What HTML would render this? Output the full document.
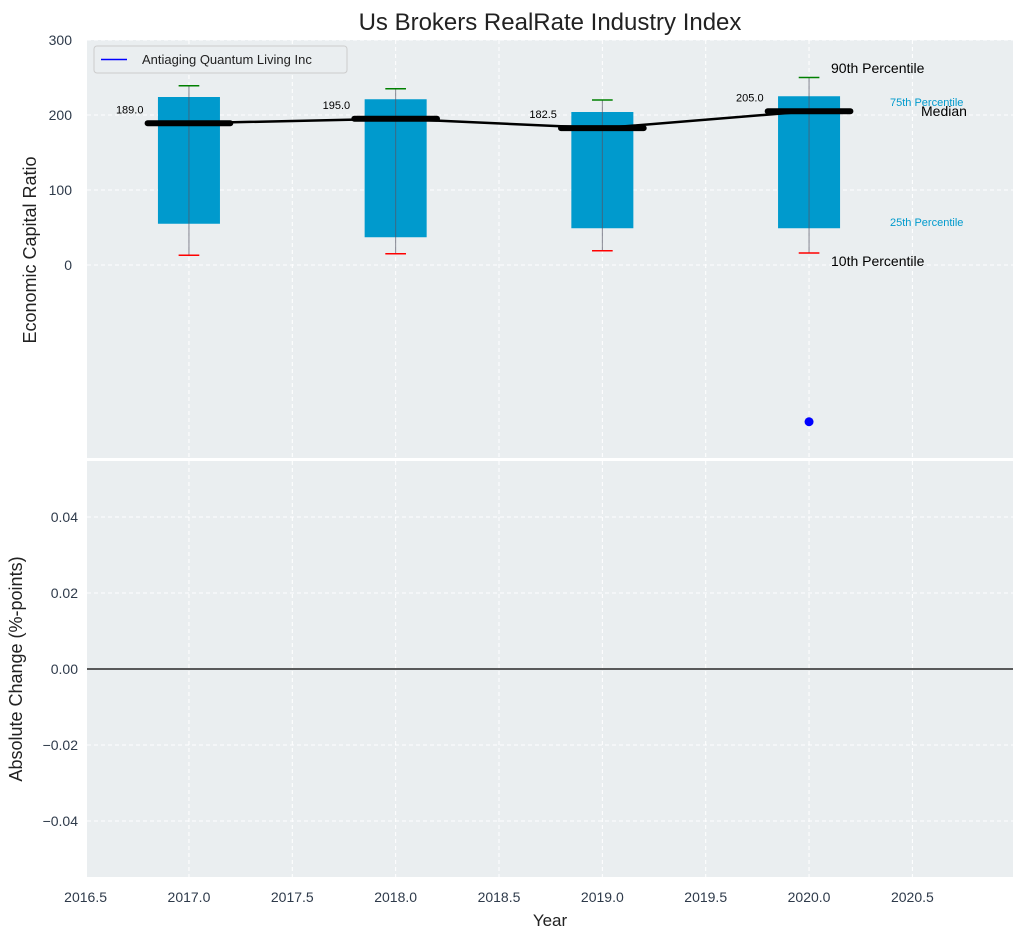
<!DOCTYPE html>
<html><head><meta charset="utf-8"><style>
body{margin:0;background:#fff;font-family:"Liberation Sans","DejaVu Sans",sans-serif;}
</style></head><body>
<svg id="c" width="1025" height="940" xmlns="http://www.w3.org/2000/svg" font-family="Liberation Sans, DejaVu Sans, sans-serif"></svg>
<script>
const years=[2017,2018,2019,2020];
const medians=[189.0,195.0,182.5,205.0];
const q1=[55,37,49,49];
const q3=[224,221,204,225];
const p10=[13,15,19,16];
const p90=[239,235,220,250];
const companyYears=[2020];
const companyValues=[-209];
const xTicks=[2016.5,2017.0,2017.5,2018.0,2018.5,2019.0,2019.5,2020.0,2020.5];
const yTopTicks=[0,100,200,300];
const yBotTicks=[-0.04,-0.02,0.00,0.02,0.04];
const changeValues=[];

const NS="http://www.w3.org/2000/svg";
const svg=document.getElementById('c');
const L=87,R=1013,T1=40,B1=458,T2=461,B2=877;
const x=v=>85.6+(v-2016.5)*206.7;
const yT=v=>265-v*0.75;
const yB=v=>669-v*3800;
function el(t,a,p){const e=document.createElementNS(NS,t);for(const k in a)e.setAttribute(k,a[k]);(p||svg).appendChild(e);return e;}
function txt(s,a){const e=el('text',a);e.textContent=s;return e;}

let bg=el('rect',{x:L,y:T1,width:R-L,height:B1-T1,fill:'#eaeef0'});

let bg2=el('rect',{x:L,y:T2,width:R-L,height:B2-T2,fill:'#eaeef0'});


xTicks.forEach(t=>{
 for(const [a,b] of [[T1,B1],[T2,B2]]){const g=el('line',{x1:x(t),x2:x(t),y1:a,y2:b,stroke:'#fff','stroke-dasharray':'4,3','stroke-width':1});}
 const l=txt(t.toFixed(1),{x:x(t),y:902,'text-anchor':'middle','font-size':14,fill:'#2e3a4a'});
 
});
yTopTicks.forEach(t=>{
 const g=el('line',{x1:L,x2:R,y1:yT(t),y2:yT(t),stroke:'#fff','stroke-dasharray':'4,3'});
 const l=txt(String(t),{x:72,y:yT(t)+5,'text-anchor':'end','font-size':14,fill:'#2e3a4a'});
 
});
yBotTicks.forEach(t=>{
 const g=el('line',{x1:L,x2:R,y1:yB(t),y2:yB(t),stroke:'#fff','stroke-dasharray':'4,3'});
 const l=txt((t<0?'\u2212':'')+Math.abs(t).toFixed(2),{x:78,y:yB(t)+5,'text-anchor':'end','font-size':14,fill:'#2e3a4a'});
 
});
let sep=el('line',{x1:L,x2:R,y1:459.5,y2:459.5,stroke:'#fff','stroke-width':2});

let zl=el('line',{x1:L,x2:R,y1:yB(0),y2:yB(0),stroke:'#000','stroke-width':1.2});


years.forEach((yr,i)=>{
 const b=el('rect',{x:x(yr-0.15),y:yT(q3[i]),width:x(yr+0.15)-x(yr-0.15),height:yT(q1[i])-yT(q3[i]),fill:'#009acd'});
 
 const w=el('line',{x1:x(yr),x2:x(yr),y1:yT(p90[i]),y2:yT(p10[i]),stroke:'#556',"stroke-width":1,opacity:0.7});
 
 const c1=el('line',{x1:x(yr-0.05),x2:x(yr+0.05),y1:yT(p90[i]),y2:yT(p90[i]),stroke:'green','stroke-width':1.5});
 
 const c2=el('line',{x1:x(yr-0.05),x2:x(yr+0.05),y1:yT(p10[i]),y2:yT(p10[i]),stroke:'red','stroke-width':1.5});
 
});
let pl=el('polyline',{points:years.map((yr,i)=>x(yr)+','+yT(medians[i])).join(' '),fill:'none',stroke:'#000','stroke-width':2.5});

years.forEach((yr,i)=>{
 const m=el('line',{x1:x(yr-0.2),x2:x(yr+0.2),y1:yT(medians[i]),y2:yT(medians[i]),stroke:'#000','stroke-width':6,'stroke-linecap':'round'});
 
 const l=txt(medians[i].toFixed(1),{x:x(yr-0.22),y:yT(medians[i])-10,'text-anchor':'end','font-size':11,fill:'#000'});
 
});
companyYears.forEach((yr,i)=>{
 const d=el('circle',{cx:x(yr),cy:yT(companyValues[i]),r:4.5,fill:'blue'});
 
});
const ann=[["90th Percentile",831,73,14,'#000'],["75th Percentile",890,106,11,'#009acd'],["Median",921,116,14,'#000'],["25th Percentile",890,226,11,'#009acd'],["10th Percentile",831,266,14,'#000']];
ann.forEach(a=>{const t=txt(a[0],{x:a[1],y:a[2],'font-size':a[3],fill:a[4]});});

const lg=el('g',{});
el('rect',{x:94,y:46,width:253,height:27,rx:3,fill:'#eaeef0',stroke:'#ccc'},lg);
el('line',{x1:101,x2:127,y1:59.5,y2:59.5,stroke:'blue','stroke-width':1.5},lg);
const lt=el('text',{x:142,y:64,'font-size':13,fill:'#222'},lg);lt.textContent='Antiaging Quantum Living Inc';

let ti=txt('Us Brokers RealRate Industry Index',{x:550,y:30,'text-anchor':'middle','font-size':24,fill:'#222'});

let xt=txt('Year',{x:550,y:926,'text-anchor':'middle','font-size':17,fill:'#222'});

let yt=txt('Economic Capital Ratio',{x:0,y:0,'text-anchor':'middle','font-size':18,fill:'#222',transform:'translate(36,250) rotate(-90)'});

let yt2=txt('Absolute Change (%-points)',{x:0,y:0,'text-anchor':'middle','font-size':18,fill:'#222',transform:'translate(22,669) rotate(-90)'});

</script>
</body></html>
